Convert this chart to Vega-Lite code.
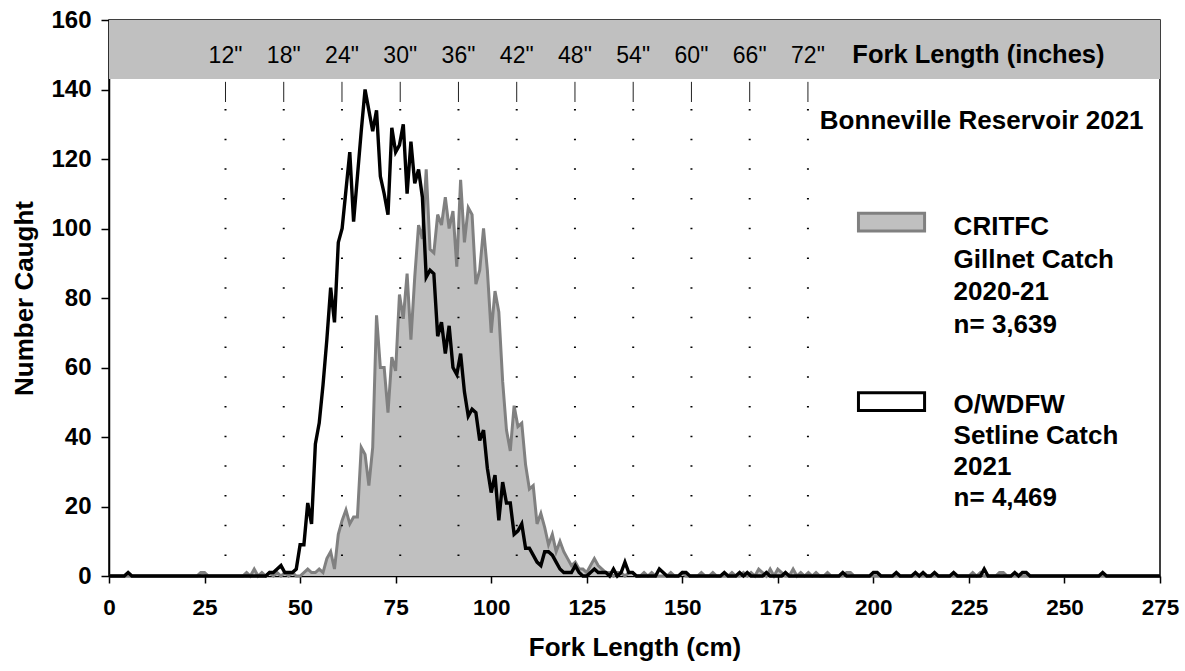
{
  "$schema": "https://vega.github.io/schema/vega-lite/v6.json",
  "width": 1051,
  "height": 556,
  "autosize": {"type": "none"},
  "padding": {"left": 109, "top": 20, "right": 25, "bottom": 95},
  "background": "white",
  "config": {
    "font": "Liberation Sans",
    "view": {"stroke": "black", "strokeWidth": 1.5},
    "axis": {"grid": false, "domainColor": "black", "domainWidth": 1.5, "tickColor": "black", "tickWidth": 1.5, "labelColor": "black", "titleColor": "black", "labelFont": "Liberation Sans", "titleFont": "Liberation Sans", "labelFontWeight": "bold", "titleFontWeight": "bold", "zindex": 1, "labelFlush": false, "labelOverlap": false}
  },
  "datasets": {
    "catch": [
      {"cm":0,"g":0,"b":0},{"cm":1,"g":0,"b":0},{"cm":2,"g":0,"b":0},{"cm":3,"g":0,"b":0},{"cm":4,"g":0,"b":0},{"cm":5,"g":0,"b":1},{"cm":6,"g":0,"b":0},{"cm":7,"g":0,"b":0},{"cm":8,"g":0,"b":0},{"cm":9,"g":0,"b":0},
      {"cm":10,"g":0,"b":0},{"cm":11,"g":0,"b":0},{"cm":12,"g":0,"b":0},{"cm":13,"g":0,"b":0},{"cm":14,"g":0,"b":0},{"cm":15,"g":0,"b":0},{"cm":16,"g":0,"b":0},{"cm":17,"g":0,"b":0},{"cm":18,"g":0,"b":0},{"cm":19,"g":0,"b":0},
      {"cm":20,"g":0,"b":0},{"cm":21,"g":0,"b":0},{"cm":22,"g":0,"b":0},{"cm":23,"g":0,"b":0},{"cm":24,"g":1,"b":0},{"cm":25,"g":1,"b":0},{"cm":26,"g":0,"b":0},{"cm":27,"g":0,"b":0},{"cm":28,"g":0,"b":0},{"cm":29,"g":0,"b":0},
      {"cm":30,"g":0,"b":0},{"cm":31,"g":0,"b":0},{"cm":32,"g":0,"b":0},{"cm":33,"g":0,"b":0},{"cm":34,"g":0,"b":0},{"cm":35,"g":0,"b":0},{"cm":36,"g":1,"b":0},{"cm":37,"g":0,"b":0},{"cm":38,"g":2,"b":0},{"cm":39,"g":0,"b":0},
      {"cm":40,"g":1,"b":0},{"cm":41,"g":0,"b":0},{"cm":42,"g":1,"b":1},{"cm":43,"g":0,"b":1},{"cm":44,"g":1,"b":2},{"cm":45,"g":0,"b":3},{"cm":46,"g":1,"b":1},{"cm":47,"g":0,"b":1},{"cm":48,"g":1,"b":1},{"cm":49,"g":0,"b":2},
      {"cm":50,"g":0,"b":9},{"cm":51,"g":1,"b":9},{"cm":52,"g":2,"b":21},{"cm":53,"g":1,"b":15},{"cm":54,"g":1,"b":38},{"cm":55,"g":2,"b":44},{"cm":56,"g":1,"b":55},{"cm":57,"g":5,"b":68},{"cm":58,"g":7,"b":83},{"cm":59,"g":2,"b":73},
      {"cm":60,"g":12,"b":96},{"cm":61,"g":16,"b":100},{"cm":62,"g":19,"b":111},{"cm":63,"g":15,"b":122},{"cm":64,"g":17,"b":102},{"cm":65,"g":17,"b":115},{"cm":66,"g":37,"b":128},{"cm":67,"g":35,"b":140},{"cm":68,"g":26,"b":134},{"cm":69,"g":37,"b":128},
      {"cm":70,"g":75,"b":134},{"cm":71,"g":60,"b":115},{"cm":72,"g":60,"b":110},{"cm":73,"g":47,"b":104},{"cm":74,"g":63,"b":129},{"cm":75,"g":59,"b":122},{"cm":76,"g":81,"b":124},{"cm":77,"g":74,"b":130},{"cm":78,"g":87,"b":110},{"cm":79,"g":68,"b":125},
      {"cm":80,"g":86,"b":113},{"cm":81,"g":101,"b":117},{"cm":82,"g":97,"b":109},{"cm":83,"g":117,"b":86},{"cm":84,"g":94,"b":88},{"cm":85,"g":93,"b":87},{"cm":86,"g":104,"b":69},{"cm":87,"g":101,"b":73},{"cm":88,"g":109,"b":64},{"cm":89,"g":100,"b":72},
      {"cm":90,"g":105,"b":60},{"cm":91,"g":89,"b":58},{"cm":92,"g":114,"b":64},{"cm":93,"g":96,"b":53},{"cm":94,"g":106,"b":46},{"cm":95,"g":104,"b":48},{"cm":96,"g":84,"b":47},{"cm":97,"g":88,"b":39},{"cm":98,"g":100,"b":42},{"cm":99,"g":88,"b":31},
      {"cm":100,"g":70,"b":24},{"cm":101,"g":82,"b":29},{"cm":102,"g":76,"b":16},{"cm":103,"g":56,"b":27},{"cm":104,"g":42,"b":21},{"cm":105,"g":36,"b":21},{"cm":106,"g":49,"b":12},{"cm":107,"g":43,"b":13},{"cm":108,"g":44,"b":15},{"cm":109,"g":32,"b":8},
      {"cm":110,"g":25,"b":8},{"cm":111,"g":26,"b":6},{"cm":112,"g":15,"b":4},{"cm":113,"g":18,"b":3},{"cm":114,"g":14,"b":7},{"cm":115,"g":9,"b":7},{"cm":116,"g":12,"b":6},{"cm":117,"g":7,"b":4},{"cm":118,"g":10,"b":2},{"cm":119,"g":7,"b":1},
      {"cm":120,"g":5,"b":1},{"cm":121,"g":3,"b":1},{"cm":122,"g":4,"b":3},{"cm":123,"g":2,"b":1},{"cm":124,"g":2,"b":0},{"cm":125,"g":1,"b":0},{"cm":126,"g":3,"b":1},{"cm":127,"g":5,"b":2},{"cm":128,"g":3,"b":1},{"cm":129,"g":2,"b":1},
      {"cm":130,"g":1,"b":1},{"cm":131,"g":1,"b":0},{"cm":132,"g":0,"b":2},{"cm":133,"g":1,"b":0},{"cm":134,"g":1,"b":1},{"cm":135,"g":0,"b":4},{"cm":136,"g":1,"b":1},{"cm":137,"g":1,"b":1},{"cm":138,"g":0,"b":0},{"cm":139,"g":0,"b":0},
      {"cm":140,"g":1,"b":0},{"cm":141,"g":0,"b":0},{"cm":142,"g":1,"b":0},{"cm":143,"g":0,"b":0},{"cm":144,"g":0,"b":2},{"cm":145,"g":0,"b":1},{"cm":146,"g":0,"b":0},{"cm":147,"g":1,"b":0},{"cm":148,"g":0,"b":0},{"cm":149,"g":0,"b":0},
      {"cm":150,"g":1,"b":1},{"cm":151,"g":0,"b":1},{"cm":152,"g":0,"b":0},{"cm":153,"g":0,"b":0},{"cm":154,"g":0,"b":0},{"cm":155,"g":1,"b":0},{"cm":156,"g":0,"b":0},{"cm":157,"g":0,"b":0},{"cm":158,"g":1,"b":0},{"cm":159,"g":0,"b":0},
      {"cm":160,"g":0,"b":0},{"cm":161,"g":0,"b":1},{"cm":162,"g":0,"b":0},{"cm":163,"g":1,"b":0},{"cm":164,"g":0,"b":0},{"cm":165,"g":0,"b":1},{"cm":166,"g":1,"b":0},{"cm":167,"g":0,"b":1},{"cm":168,"g":1,"b":0},{"cm":169,"g":0,"b":0},
      {"cm":170,"g":2,"b":0},{"cm":171,"g":1,"b":0},{"cm":172,"g":0,"b":1},{"cm":173,"g":2,"b":0},{"cm":174,"g":0,"b":0},{"cm":175,"g":2,"b":0},{"cm":176,"g":1,"b":0},{"cm":177,"g":0,"b":1},{"cm":178,"g":0,"b":0},{"cm":179,"g":2,"b":0},
      {"cm":180,"g":0,"b":0},{"cm":181,"g":1,"b":0},{"cm":182,"g":0,"b":0},{"cm":183,"g":1,"b":0},{"cm":184,"g":0,"b":0},{"cm":185,"g":1,"b":0},{"cm":186,"g":0,"b":0},{"cm":187,"g":0,"b":0},{"cm":188,"g":1,"b":0},{"cm":189,"g":0,"b":0},
      {"cm":190,"g":0,"b":0},{"cm":191,"g":0,"b":0},{"cm":192,"g":0,"b":1},{"cm":193,"g":1,"b":0},{"cm":194,"g":1,"b":0},{"cm":195,"g":0,"b":0},{"cm":196,"g":0,"b":0},{"cm":197,"g":0,"b":0},{"cm":198,"g":0,"b":0},{"cm":199,"g":0,"b":0},
      {"cm":200,"g":0,"b":1},{"cm":201,"g":0,"b":1},{"cm":202,"g":0,"b":0},{"cm":203,"g":0,"b":0},{"cm":204,"g":0,"b":0},{"cm":205,"g":0,"b":0},{"cm":206,"g":0,"b":1},{"cm":207,"g":0,"b":0},{"cm":208,"g":0,"b":0},{"cm":209,"g":0,"b":0},
      {"cm":210,"g":0,"b":0},{"cm":211,"g":0,"b":1},{"cm":212,"g":0,"b":0},{"cm":213,"g":0,"b":1},{"cm":214,"g":0,"b":0},{"cm":215,"g":0,"b":0},{"cm":216,"g":0,"b":1},{"cm":217,"g":0,"b":0},{"cm":218,"g":0,"b":0},{"cm":219,"g":0,"b":0},
      {"cm":220,"g":0,"b":0},{"cm":221,"g":0,"b":1},{"cm":222,"g":0,"b":0},{"cm":223,"g":0,"b":0},{"cm":224,"g":0,"b":0},{"cm":225,"g":0,"b":0},{"cm":226,"g":1,"b":0},{"cm":227,"g":0,"b":0},{"cm":228,"g":1,"b":0},{"cm":229,"g":0,"b":2},
      {"cm":230,"g":0,"b":0},{"cm":231,"g":0,"b":0},{"cm":232,"g":0,"b":0},{"cm":233,"g":1,"b":0},{"cm":234,"g":1,"b":0},{"cm":235,"g":0,"b":0},{"cm":236,"g":0,"b":0},{"cm":237,"g":0,"b":1},{"cm":238,"g":0,"b":0},{"cm":239,"g":0,"b":1},
      {"cm":240,"g":0,"b":1},{"cm":241,"g":0,"b":0},{"cm":242,"g":0,"b":0},{"cm":243,"g":0,"b":0},{"cm":244,"g":0,"b":0},{"cm":245,"g":0,"b":0},{"cm":246,"g":0,"b":0},{"cm":247,"g":0,"b":0},{"cm":248,"g":0,"b":0},{"cm":249,"g":0,"b":0},
      {"cm":250,"g":0,"b":0},{"cm":251,"g":0,"b":0},{"cm":252,"g":0,"b":0},{"cm":253,"g":0,"b":0},{"cm":254,"g":0,"b":0},{"cm":255,"g":0,"b":0},{"cm":256,"g":0,"b":0},{"cm":257,"g":0,"b":0},{"cm":258,"g":0,"b":0},{"cm":259,"g":0,"b":0},
      {"cm":260,"g":0,"b":1},{"cm":261,"g":0,"b":0},{"cm":262,"g":0,"b":0},{"cm":263,"g":0,"b":0},{"cm":264,"g":0,"b":0},{"cm":265,"g":0,"b":0},{"cm":266,"g":0,"b":0},{"cm":267,"g":0,"b":0},{"cm":268,"g":0,"b":0},{"cm":269,"g":0,"b":0},
      {"cm":270,"g":0,"b":0},{"cm":271,"g":0,"b":0},{"cm":272,"g":0,"b":0},{"cm":273,"g":0,"b":0},{"cm":274,"g":0,"b":0},{"cm":275,"g":0,"b":0}
    ],
    "inches": [
      {"cm":30.48,"label":"12\""},{"cm":45.72,"label":"18\""},{"cm":60.96,"label":"24\""},{"cm":76.2,"label":"30\""},{"cm":91.44,"label":"36\""},{"cm":106.68,"label":"42\""},
      {"cm":121.92,"label":"48\""},{"cm":137.16,"label":"54\""},{"cm":152.4,"label":"60\""},{"cm":167.64,"label":"66\""},{"cm":182.88,"label":"72\""}
    ]
  },
  "layer": [
    {
      "data": {"name": "catch"},
      "mark": {"type": "area", "color": "#c0c0c0", "opacity": 1},
      "encoding": {
        "x": {"field": "cm", "type": "quantitative", "scale": {"domain": [0, 275], "nice": false, "zero": false},
          "axis": {"values": [0,25,50,75,100,125,150,175,200,225,250,275], "labelFontSize": 22.5, "tickSize": 7, "labelPadding": 13, "title": "Fork Length (cm)", "titleFontSize": 26, "titleY": 71, "titleBaseline": "middle"}},
        "y": {"field": "g", "type": "quantitative", "scale": {"domain": [0, 160], "nice": false},
          "axis": {"values": [0,20,40,60,80,100,120,140,160], "labelFontSize": 24, "tickSize": 8, "labelPadding": 10, "title": "Number Caught", "titleFontSize": 26, "titleX": -85, "titleY": 278, "titleAngle": -90, "titleAlign": "center", "titleBaseline": "middle"}}
      }
    },
    {
      "data": {"values": [{}]},
      "mark": {"type": "rect", "color": "#c0c0c0"},
      "encoding": {
        "x": {"datum": 0, "type": "quantitative"},
        "x2": {"datum": 275},
        "y": {"datum": 143, "type": "quantitative"},
        "y2": {"datum": 160}
      }
    },
    {
      "data": {"name": "catch"},
      "mark": {"type": "line", "color": "#808080", "strokeWidth": 3},
      "encoding": {"x": {"field": "cm", "type": "quantitative"}, "y": {"field": "g", "type": "quantitative"}}
    },
    {
      "data": {"name": "inches"},
      "mark": {"type": "rule", "color": "black", "strokeWidth": 2, "strokeDash": [1.5, 28.2]},
      "encoding": {"x": {"field": "cm", "type": "quantitative"}, "y": {"datum": 134.4, "type": "quantitative"}, "y2": {"datum": 0}}
    },
    {
      "data": {"name": "inches"},
      "mark": {"type": "rule", "color": "#222222", "strokeWidth": 1},
      "encoding": {"x": {"field": "cm", "type": "quantitative"}, "y": {"datum": 142.2, "type": "quantitative"}, "y2": {"datum": 136.4}}
    },
    {
      "data": {"name": "inches"},
      "mark": {"type": "text", "fontSize": 23, "align": "center", "baseline": "alphabetic", "color": "black"},
      "encoding": {"x": {"field": "cm", "type": "quantitative"}, "y": {"datum": 147.5, "type": "quantitative"}, "text": {"field": "label"}}
    },
    {
      "data": {"name": "catch"},
      "mark": {"type": "line", "color": "black", "strokeWidth": 3.4},
      "encoding": {"x": {"field": "cm", "type": "quantitative"}, "y": {"field": "b", "type": "quantitative"}}
    },
    {
      "data": {"values": [{}]},
      "mark": {"type": "text", "text": "Fork Length (inches)", "fontSize": 25.5, "fontWeight": "bold", "align": "left", "baseline": "alphabetic", "color": "black"},
      "encoding": {"x": {"datum": 194.5, "type": "quantitative"}, "y": {"datum": 147.6, "type": "quantitative"}}
    },
    {
      "data": {"values": [{}]},
      "mark": {"type": "text", "text": "Bonneville Reservoir 2021", "fontSize": 26, "fontWeight": "bold", "align": "right", "baseline": "alphabetic", "color": "black"},
      "encoding": {"x": {"datum": 270.7, "type": "quantitative"}, "y": {"datum": 128.5, "type": "quantitative"}}
    },
    {
      "data": {"values": [{}]},
      "mark": {"type": "rect", "fill": "#c0c0c0", "stroke": "#808080", "strokeWidth": 3},
      "encoding": {"x": {"datum": 196.1, "type": "quantitative"}, "x2": {"datum": 213.4}, "y": {"datum": 99.3, "type": "quantitative"}, "y2": {"datum": 104.4}}
    },
    {
      "data": {"values": [{}]},
      "mark": {"type": "rect", "fill": "white", "stroke": "black", "strokeWidth": 3},
      "encoding": {"x": {"datum": 196.1, "type": "quantitative"}, "x2": {"datum": 213.4}, "y": {"datum": 47.6, "type": "quantitative"}, "y2": {"datum": 52.7}}
    },
    {
      "data": {"values": [{}]},
      "mark": {"type": "text", "text": ["CRITFC", "Gillnet Catch", "2020-21", "n= 3,639"], "lineHeight": 32.7, "fontSize": 26, "fontWeight": "bold", "align": "left", "baseline": "alphabetic", "color": "black"},
      "encoding": {"x": {"datum": 221, "type": "quantitative"}, "y": {"datum": 98.1, "type": "quantitative"}}
    },
    {
      "data": {"values": [{}]},
      "mark": {"type": "text", "text": ["O/WDFW", "Setline Catch", "2021", "n= 4,469"], "lineHeight": 31, "fontSize": 26, "fontWeight": "bold", "align": "left", "baseline": "alphabetic", "color": "black"},
      "encoding": {"x": {"datum": 221, "type": "quantitative"}, "y": {"datum": 46.8, "type": "quantitative"}}
    }
  ]
}
